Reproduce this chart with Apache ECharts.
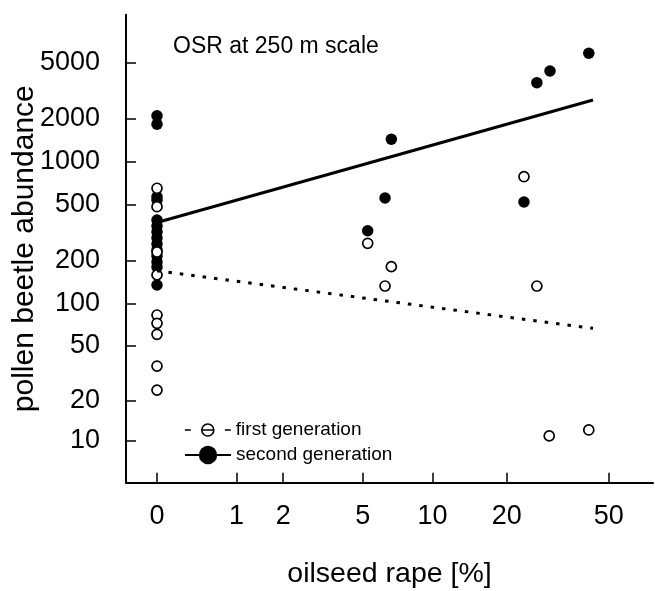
<!DOCTYPE html>
<html><head><meta charset="utf-8">
<script src="https://cdn.jsdelivr.net/npm/echarts@6/dist/echarts.min.js"></script>
<style>html,body{margin:0;padding:0;background:#fff}#c{width:655px;height:591px}</style>
</head><body><div id="c"></div>
<script>
// Tick labels
const xTicks = [0, 1, 2, 5, 10, 20, 50];
const yTicks = [10, 20, 50, 100, 200, 500, 1000, 2000, 5000];

// First generation (open circles): oilseed rape [%] and abundance
const firstGenX = [0, 0, 0, 0, 0, 0, 0, 0, 0, 5.26, 6.28, 6.69, 23.4, 26.3, 29.4, 41.9];
const firstGenY = [650, 482, 231, 159, 82.6, 72.1, 60.2, 35.6, 23.8, 266, 132.7, 182, 784, 132.7, 10.8, 12.0];

// Second generation (filled circles)
const secondGenX = [0, 0, 0, 0, 0, 0, 0, 0, 0, 0, 0, 0, 0, 0, 5.26, 6.28, 6.69, 23.4, 26.3, 29.6, 41.9];
const secondGenY = [2107, 1833, 567, 537, 388, 352, 320, 290, 263, 239, 216, 196, 181, 135, 326, 555, 1438, 520, 3597, 4346, 5790];

// Fitted lines (end points)
const firstFitX = [0, 43.5];
const firstFitY = [170, 66.4];
const secondFitX = [0, 43.5];
const secondFitY = [373, 2717];

const FONT = 'Liberation Sans, Arial, Helvetica, sans-serif';
const tr = v => Math.log10(v + 1);
const pairs = (xs, ys) => xs.map((x, i) => [tr(x), tr(ys[i])]);
const nearest = (ticks, v) => ticks.reduce((a, b) => Math.abs(tr(b) - v) < Math.abs(tr(a) - v) ? b : a);

const chart = echarts.init(document.getElementById('c'), null, {renderer: 'canvas'});
chart.setOption({
  animation: false,
  backgroundColor: '#fff',
  title: {
    text: 'OSR at 250 m scale', left: 173, top: 35, padding: 0,
    textStyle: {fontSize: 23, fontWeight: 'normal', color: '#000', fontFamily: FONT}
  },
  legend: [
    {
      data: [{name: 'first generation',
              itemStyle: {color: 'transparent', borderColor: '#000', borderWidth: 1.6},
              lineStyle: {type: [6, 11, 12, 11, 6], width: 1.6, color: '#000'}}],
      left: 184, top: 420.5, padding: 0, itemWidth: 46, itemHeight: 15,
      textStyle: {fontSize: 19, color: '#000', fontFamily: FONT}
    },
    {
      data: [{name: 'second generation', lineStyle: {type: 'solid', width: 2, color: '#000'}}],
      left: 184, top: 445.5, padding: 0, itemWidth: 46, itemHeight: 23,
      textStyle: {fontSize: 19, color: '#000', fontFamily: FONT}
    }
  ],
  grid: {left: 126, right: 2, top: 14.7, bottom: 108.3, containLabel: false, outerBoundsMode: 'none'},
  xAxis: {
    type: 'value', min: -0.1172, max: 1.8752,
    name: 'oilseed rape [%]', nameLocation: 'middle', nameGap: 77, nameMoveOverlap: false,
    nameTextStyle: {fontSize: 28.5, color: '#000', fontFamily: FONT},
    axisLine: {onZero: false, lineStyle: {color: '#000', width: 2}},
    axisTick: {inside: true, length: 10, customValues: xTicks.map(tr), lineStyle: {color: '#000', width: 1.5}},
    axisLabel: {customValues: xTicks.map(tr), margin: 20, fontSize: 27, color: '#000', fontFamily: FONT,
                formatter: v => String(nearest(xTicks, v))},
    splitLine: {show: false}
  },
  yAxis: {
    type: 'value', min: 0.743, max: 4.0342,
    name: 'pollen beetle abundance', nameLocation: 'middle', nameGap: 86, nameRotate: 90, nameMoveOverlap: false,
    nameTextStyle: {fontSize: 30, color: '#000', fontFamily: FONT},
    axisLine: {onZero: false, lineStyle: {color: '#000', width: 2}},
    axisTick: {inside: true, length: 10, customValues: yTicks.map(tr), lineStyle: {color: '#000', width: 1.5}},
    axisLabel: {customValues: yTicks.map(tr), margin: 26, fontSize: 27, color: '#000', fontFamily: FONT,
                formatter: v => String(nearest(yTicks, v))},
    splitLine: {show: false}
  },
  series: [
    {
      name: 'second generation', type: 'line', data: pairs(secondFitX, secondFitY),
      showSymbol: false, symbol: 'circle', itemStyle: {color: '#000'},
      lineStyle: {color: '#000', width: 3}
    },
    {
      name: 'first generation', type: 'line', data: pairs(firstFitX, firstFitY),
      showSymbol: false, symbol: 'circle', itemStyle: {color: '#000'},
      lineStyle: {color: '#000', width: 3, type: [3.5, 8]}
    },
    {
      name: 'second generation points', type: 'scatter', data: pairs(secondGenX, secondGenY),
      symbol: 'circle', symbolSize: 11.5, itemStyle: {color: '#000', opacity: 1}
    },
    {
      name: 'first generation points', type: 'scatter', data: pairs(firstGenX, firstGenY),
      symbol: 'circle', symbolSize: 10,
      itemStyle: {color: '#fff', borderColor: '#000', borderWidth: 1.7, opacity: 1}
    }
  ]
});
</script>
</body></html>
